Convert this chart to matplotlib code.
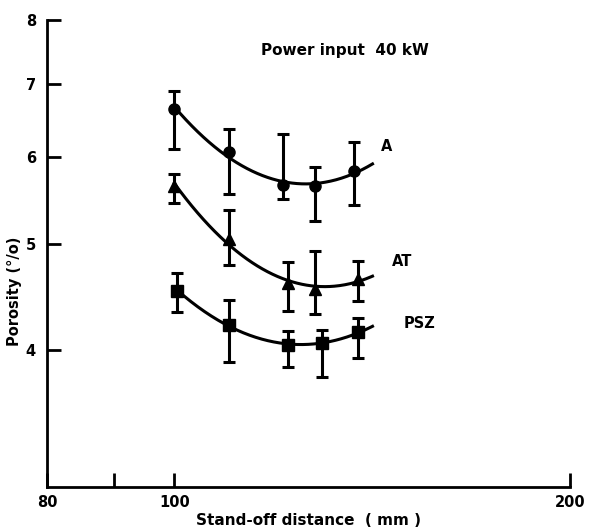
import numpy as np
import matplotlib
matplotlib.use("Agg")
import matplotlib.pyplot as plt
from matplotlib.ticker import FixedLocator, FixedFormatter, NullLocator

plt.rcParams['font.family'] = ['DejaVu Sans']
plt.rcParams['font.weight'] = 'bold'

# stand-off distance (mm)
x_a = [100, 110, 121, 128, 137]
x_at = [100, 110, 122, 128, 138]
x_psz = [100.5, 110, 122, 129.5, 138]

# porosity (%) and error bar ends
a_mid = [6.64, 6.06, 5.66, 5.65, 5.82]
a_hi = [6.89, 6.36, 6.30, 5.87, 6.19]
a_lo = [6.10, 5.55, 5.49, 5.24, 5.43]

at_mid = [5.65, 5.05, 4.60, 4.55, 4.64]
at_hi = [5.79, 5.37, 4.81, 4.92, 4.82]
at_lo = [5.45, 4.78, 4.34, 4.31, 4.43]

psz_mid = [4.53, 4.22, 4.04, 4.06, 4.15]
psz_hi = [4.70, 4.44, 4.16, 4.17, 4.28]
psz_lo = [4.33, 3.90, 3.86, 3.78, 3.93]

series = [
    ("A", x_a, a_mid, a_hi, a_lo, "o"),
    ("AT", x_at, at_mid, at_hi, at_lo, "^"),
    ("PSZ", x_psz, psz_mid, psz_hi, psz_lo, "s"),
]
label_pos = {"A": (143.6, 6.13), "AT": (146.5, 4.82), "PSZ": (149.5, 4.23)}

x_ticks = [80, 90, 100, 200]
x_ticklabels = ["80", "", "100", "200"]
y_ticks = [4, 5, 6, 7, 8]
y_ticklabels = ["4", "5", "6", "7", "8"]

fig = plt.figure(figsize=(5.9, 5.31), dpi=100)
ax = fig.add_axes([47 / 590, 1 - 487 / 531, (570 - 47) / 590, (487 - 20) / 531])
ax.set_xscale("log")
ax.set_yscale("log")
ax.set_xlim(80, 200)
ax.set_ylim(3, 8)

for name, xs, mid, hi, lo, mk in series:
    xs = np.array(xs)
    mid = np.array(mid)
    yerr = [mid - np.array(lo), np.array(hi) - mid]
    ax.errorbar(xs, mid, yerr=yerr, fmt=mk, color="black", ms=8 if mk != "^" else 9,
                elinewidth=2.2, capsize=4.5, capthick=2.2, zorder=3)
    # smooth fitted curve (log-log quadratic)
    coef = np.polyfit(np.log10(xs), np.log10(mid), 2)
    xx = np.linspace(xs[0], 141.5, 200)
    ax.plot(xx, 10 ** np.polyval(coef, np.log10(xx)), color="black", lw=2.2, zorder=2)
    lx, ly = label_pos[name]
    ax.text(lx, ly, name, ha="left", va="center", fontsize=10.5, fontweight="bold")

ax.xaxis.set_major_locator(FixedLocator(x_ticks))
ax.xaxis.set_major_formatter(FixedFormatter(x_ticklabels))
ax.xaxis.set_minor_locator(NullLocator())
ax.yaxis.set_major_locator(FixedLocator(y_ticks))
ax.yaxis.set_major_formatter(FixedFormatter(y_ticklabels))
ax.yaxis.set_minor_locator(NullLocator())
ax.tick_params(direction="in", length=10, width=2, labelsize=10.5, pad=6)
ax.tick_params(axis="y", pad=8)
for lbl in ax.get_xticklabels() + ax.get_yticklabels():
    lbl.set_fontweight("bold")

ax.spines["top"].set_visible(False)
ax.spines["right"].set_visible(False)
ax.spines["left"].set_linewidth(2)
ax.spines["bottom"].set_linewidth(2)

ax.set_xlabel("Stand-off distance  ( mm )", fontsize=11, fontweight="bold", labelpad=2)
ax.set_ylabel("Porosity (°/o)", fontsize=10.5, fontweight="bold")
ax.yaxis.set_label_coords(-0.048, 0.42)

fig.text(345 / 590, 1 - 50 / 531, "Power input  40 kW", ha="center", va="center",
         fontsize=11, fontweight="bold")

fig.savefig("out.png", dpi=100)
